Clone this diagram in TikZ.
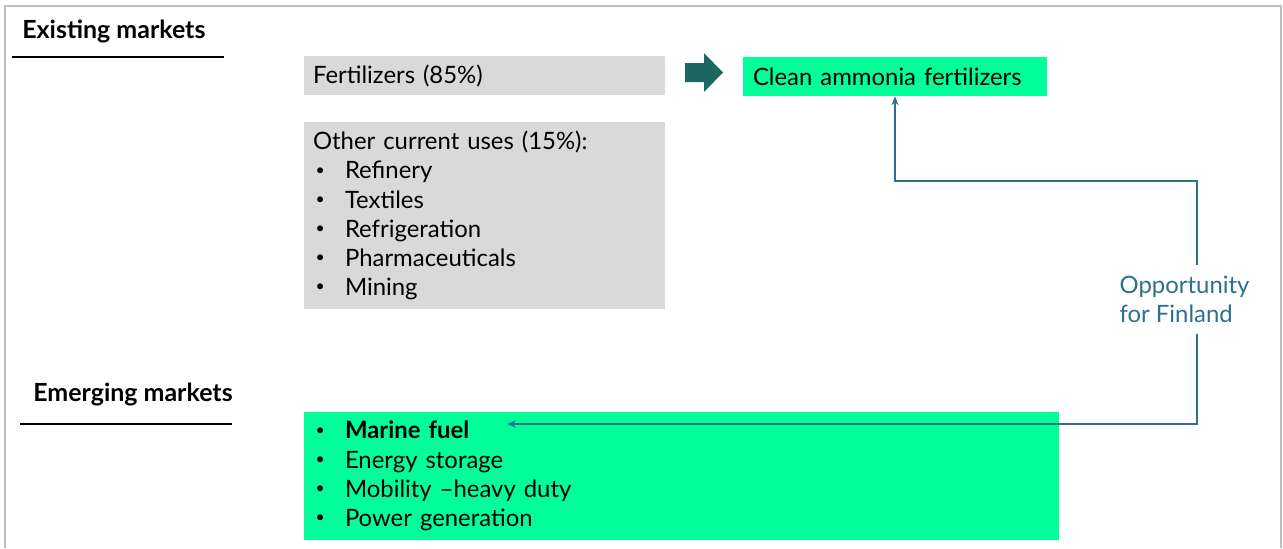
\documentclass[tikz,border=0pt]{standalone}
\usepackage{fontspec}
\setmainfont{Lato}
\usepackage{xcolor}
\definecolor{mintgreen}{HTML}{00FF99}
\definecolor{lightgrey}{HTML}{D9D9D9}
\definecolor{framegrey}{HTML}{BFBFBF}
\definecolor{darkteal}{HTML}{1B6762}
\definecolor{linkblue}{HTML}{2E6E8E}
\usetikzlibrary{arrows.meta}
\newcommand{\bul}[1]{\hspace*{0.05cm}\makebox[0.59cm][l]{\raisebox{0.3ex}{\fontsize{9}{9}\selectfont\textbullet}}#1}

\begin{document}
\begin{tikzpicture}[
          box/.style={minimum height=0.78cm, inner xsep=0.18cm, inner ysep=0pt, align=left, font=\fontsize{13.6}{16.6}\selectfont},
          head/.style={anchor=west, inner sep=0pt, font=\bfseries\fontsize{14.2}{16}\selectfont},
          link/.style={draw=linkblue, line width=0.7pt, -{Stealth[length=5pt, width=4pt]}}
        ]
          \useasboundingbox (0,0) rectangle (25.66,-10.96);
          \draw[framegrey, line width=0.8pt] (0.10,-10.96) -- (0.10,-0.12) -- (25.62,-0.12) -- (25.62,-10.96);

          \node[head] (exist) at (0.44,-0.62) {Existing markets};
          \draw[line width=0.8pt] (0.24,-1.14) -- (4.48,-1.14);
          \node[head] (emerg) at (0.66,-7.88) {Emerging markets};
          \draw[line width=0.8pt] (0.40,-8.48) -- (4.64,-8.48);

          \node[box, fill=lightgrey, text width=6.86cm] (fert) at (9.69,-1.51) {Fertilizers (85\%)};
          \node[box, fill=lightgrey, text width=6.86cm, minimum height=3.74cm] (other) at (9.69,-4.31)
            {Other current uses (15\%):\\ \bul{Refinery}\\ \bul{Textiles}\\ \bul{Refrigeration}\\ \bul{Pharmaceuticals}\\ \bul{Mining}};
          \node[box, fill=mintgreen, text width=5.72cm, inner xsep=0.18cm] (clean) at (17.90,-1.53) {\hspace*{0.02cm}Clean ammonia fertilizers};
          \node[box, fill=mintgreen, text width=14.74cm, minimum height=2.56cm] (marine) at (13.63,-9.52)
            {\bul{\textbf{Marine fuel}}\\ \bul{Energy storage}\\ \bul{Mobility –heavy duty}\\ \bul{Power generation}};

          % block arrow fertilizers -> clean ammonia
          \fill[darkteal] (13.70,-1.26) -- (14.08,-1.26) -- (14.08,-1.06) -- (14.46,-1.45)
            -- (14.08,-1.84) -- (14.08,-1.64) -- (13.70,-1.64) -- cycle;

          \node[text=linkblue, align=left, inner sep=0pt, minimum height=1.38cm, font=\fontsize{13.6}{16.6}\selectfont] (opp) at (23.69,-5.99) {Opportunity\\for Finland};
          \coordinate (rtop) at (23.94,-3.62);
          \coordinate (rbot) at (23.94,-8.48);
          \coordinate (mtip) at (10.14,-8.48);

          \draw[link] (rtop |- opp.north) -- (rtop) -| (clean.south);
          \draw[link] (rbot |- opp.south) -- (rbot) -- (mtip);
        \end{tikzpicture}
\end{document}
